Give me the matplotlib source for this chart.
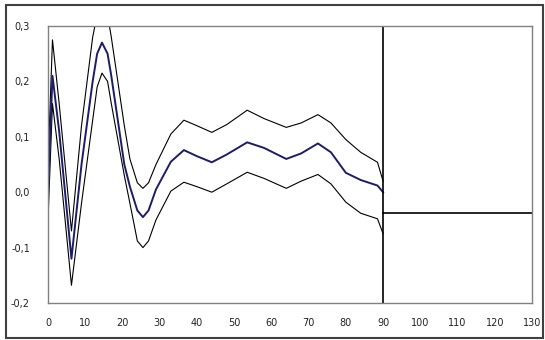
import matplotlib
matplotlib.use('Agg')
import matplotlib.pyplot as plt
from matplotlib.patches import Rectangle

# Impulse response with upper / lower bands
t      = [0, 1.2, 3, 6.3, 9, 12, 13.2, 14.5, 16, 17, 20.5, 22, 24, 25.5, 27, 29, 33,
          36.5, 40, 44, 48, 53.5, 58, 64, 68, 72.5, 76, 80, 84, 88.5, 90]
center = [0.0, 0.21, 0.11, -0.12, 0.05, 0.20, 0.25, 0.27, 0.25, 0.21, 0.05, 0.01,
          -0.033, -0.045, -0.033, 0.005, 0.055, 0.076, 0.065, 0.054, 0.068, 0.09,
          0.08, 0.06, 0.07, 0.088, 0.072, 0.035, 0.022, 0.012, 0.0]
upper  = [0.05, 0.275, 0.16, -0.07, 0.12, 0.28, 0.32, 0.34, 0.32, 0.28, 0.12, 0.06,
          0.017, 0.007, 0.017, 0.05, 0.105, 0.13, 0.12, 0.108, 0.122, 0.148, 0.133,
          0.117, 0.125, 0.14, 0.125, 0.095, 0.072, 0.054, 0.02]
lower  = [-0.05, 0.16, 0.06, -0.168, -0.02, 0.13, 0.19, 0.215, 0.20, 0.16, 0.03, -0.02,
          -0.088, -0.10, -0.088, -0.05, 0.002, 0.018, 0.01, 0.0, 0.015, 0.036, 0.025,
          0.007, 0.02, 0.032, 0.015, -0.018, -0.038, -0.048, -0.075]

# the odd lines after the last period
vline_x = 90
hline_x = [90, 130]
hline_y = [-0.038, -0.038]

xticks  = list(range(0, 131, 10))
yticks  = [-0.2, -0.1, 0.0, 0.1, 0.2, 0.3]
ylabels = ['-0,2', '-0,1', '0,0', '0,1', '0,2', '0,3']

fig = plt.figure(figsize=(5.45, 3.4), dpi=100)
ax = fig.add_axes([48/545, 1-303/340, (532-48)/545, (303-26)/340])

ax.plot(t, upper, color='black', lw=0.8)
ax.plot(t, lower, color='black', lw=0.8)
ax.plot(t, center, color='#1c1c6b', lw=1.4)
ax.plot([vline_x, vline_x], [-0.2, 0.3], color='black', lw=1.2)
ax.plot(hline_x, hline_y, color='black', lw=1.2)

ax.set_xlim(0, 130)
ax.set_ylim(-0.2, 0.3)
ax.set_xticks(xticks)
ax.set_yticks(yticks)
ax.set_yticklabels(ylabels)
ax.tick_params(length=0, labelsize=7, colors='#222222')
ax.tick_params(axis='y', pad=13)
ax.tick_params(axis='x', pad=11)
for s in ax.spines.values():
    s.set_color('#808080')
    s.set_linewidth(1.0)

# outer frame round the whole chart
fig.patches.append(Rectangle((6/545, 1-338/340), (543-6)/545, (338-5)/340,
                             transform=fig.transFigure, fill=False,
                             edgecolor='#404040', lw=1.5))

fig.savefig('out.png', dpi=100)
